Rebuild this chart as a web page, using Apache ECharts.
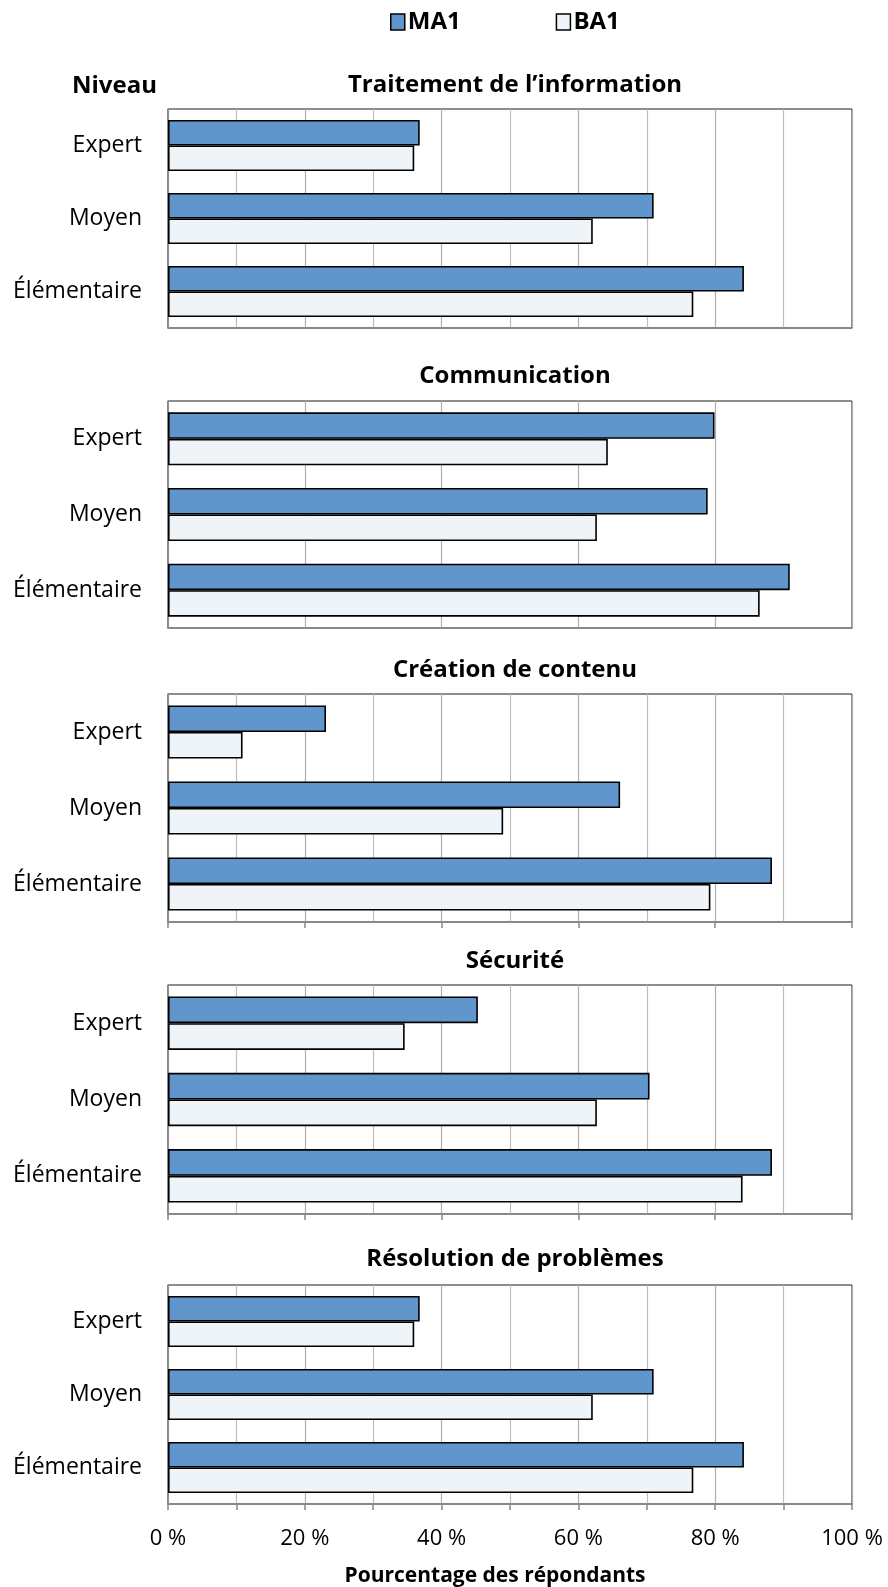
<!DOCTYPE html>
<html><head><meta charset="utf-8">
<script src="https://cdn.jsdelivr.net/npm/echarts@6/dist/echarts.min.js"></script>
<style>html,body{margin:0;padding:0;background:#fff}#c{width:888px;height:1587px}</style>
</head><body><div id="c"></div>
<script>
// ---- data ----
const categories = ['Expert', 'Moyen', 'Élémentaire'];
const panelTitles = ['Traitement de l’information', 'Communication', 'Création de contenu', 'Sécurité', 'Résolution de problèmes'];
const seriesNames = ['MA1', 'BA1'];
const ma1Values = [
  [36.8, 71.0, 84.2],
  [79.9, 78.9, 90.9],
  [23.1, 66.1, 88.3],
  [45.3, 70.4, 88.3],
  [36.8, 71.0, 84.2]
];
const ba1Values = [
  [36.0, 62.1, 76.8],
  [64.3, 62.7, 86.5],
  [10.9, 49.0, 79.3],
  [34.6, 62.7, 84.0],
  [36.0, 62.1, 76.8]
];
const tickLabels = ['0 %', '20 %', '40 %', '60 %', '80 %', '100 %'];
const axisTitle = 'Pourcentage des répondants';
const levelTitle = 'Niveau';

// ---- layout / style ----
const FONT = '"Open Sans", "Noto Sans", sans-serif';
const LEFT = 168, RIGHT_EDGE = 852;
const tops = [109, 401, 694, 985, 1285];
const heights = [219, 227, 228, 229, 219];
const titleY = [80, 371, 665, 956, 1254];
// per panel: minor split lines (10 %), major ticks, minor ticks
const panelStyle = [
  {minor: true, tick: false, minorTick: false},
  {minor: false, tick: false, minorTick: false},
  {minor: true, tick: true, minorTick: false},
  {minor: true, tick: true, minorTick: false},
  {minor: true, tick: true, minorTick: true}
];
const COL_MA = '#6096cb', COL_BA = '#eff4f9';

const grids = [], xAxes = [], yAxes = [], series = [], titles = [];
panelTitles.forEach((t, i) => {
  grids.push({left: LEFT, width: RIGHT_EDGE - LEFT, top: tops[i], height: heights[i],
    show: true, borderColor: '#1a1a1a', borderWidth: 1, backgroundColor: 'transparent'});
  titles.push({text: t, left: (LEFT + RIGHT_EDGE) / 2, top: titleY[i], textAlign: 'center', textVerticalAlign: 'middle',
    textStyle: {fontFamily: FONT, fontSize: 24, fontWeight: 'bold', color: '#000'}});
  const last = i === panelTitles.length - 1;
  const ps = panelStyle[i];
  xAxes.push({
    type: 'value', gridIndex: i, min: 0, max: 100, interval: 20,
    axisLine: {show: true, onZero: false, lineStyle: {color: '#868686', width: 1.5}},
    axisTick: {show: ps.tick, length: 6, lineStyle: {color: '#868686', width: 1.5}},
    minorTick: {show: ps.minorTick, splitNumber: 2, length: 6, lineStyle: {color: '#868686', width: 1.5}},
    splitLine: {show: true, lineStyle: {color: '#b0b0b0', width: 1.2}},
    minorSplitLine: {show: ps.minor, lineStyle: {color: '#bdbdbd', width: 1.2}},
    axisLabel: {show: last, margin: 24, fontFamily: FONT, fontSize: 22, color: '#000',
      formatter: v => tickLabels[Math.round(v / 20)]}
  });
  yAxes.push({
    type: 'category', gridIndex: i, data: categories, inverse: true,
    axisLine: {show: true, lineStyle: {color: '#868686', width: 1.5}},
    axisTick: {show: false},
    axisLabel: {margin: 26, fontFamily: FONT, fontSize: 23, color: '#000'}
  });
  [ma1Values, ba1Values].forEach((vals, k) => {
    series.push({
      name: seriesNames[k], type: 'bar', xAxisIndex: i, yAxisIndex: i,
      data: vals[i], barGap: '0%', barCategoryGap: '30%',
      itemStyle: {color: k === 0 ? COL_MA : COL_BA, borderColor: '#000', borderWidth: 1.6},
      emphasis: {disabled: true}, animation: false
    });
  });
});

const chart = echarts.init(document.getElementById('c'), null, {renderer: 'canvas'});
chart.setOption({
  backgroundColor: '#fff',
  animation: false,
  title: titles,
  legend: {
    data: seriesNames, top: 5, left: 385, itemGap: 95, itemWidth: 14, itemHeight: 16,
    icon: 'rect',
    itemStyle: {borderColor: '#000', borderWidth: 1.5},
    textStyle: {fontFamily: FONT, fontSize: 24, fontWeight: 'bold', color: '#000', padding: [0, 0, 0, -2]}
  },
  graphic: [
    {type: 'text', left: 72, top: 74,
      style: {text: levelTitle, fontFamily: FONT, fontSize: 24, fontWeight: 'bold', fill: '#000'}},
    {type: 'text', x: 495, y: 1576,
      style: {text: axisTitle, align: 'center', verticalAlign: 'middle', fontFamily: FONT, fontSize: 21, fontWeight: 'bold', fill: '#000'}}
  ],
  grid: grids, xAxis: xAxes, yAxis: yAxes, series: series
});
</script></body></html>
